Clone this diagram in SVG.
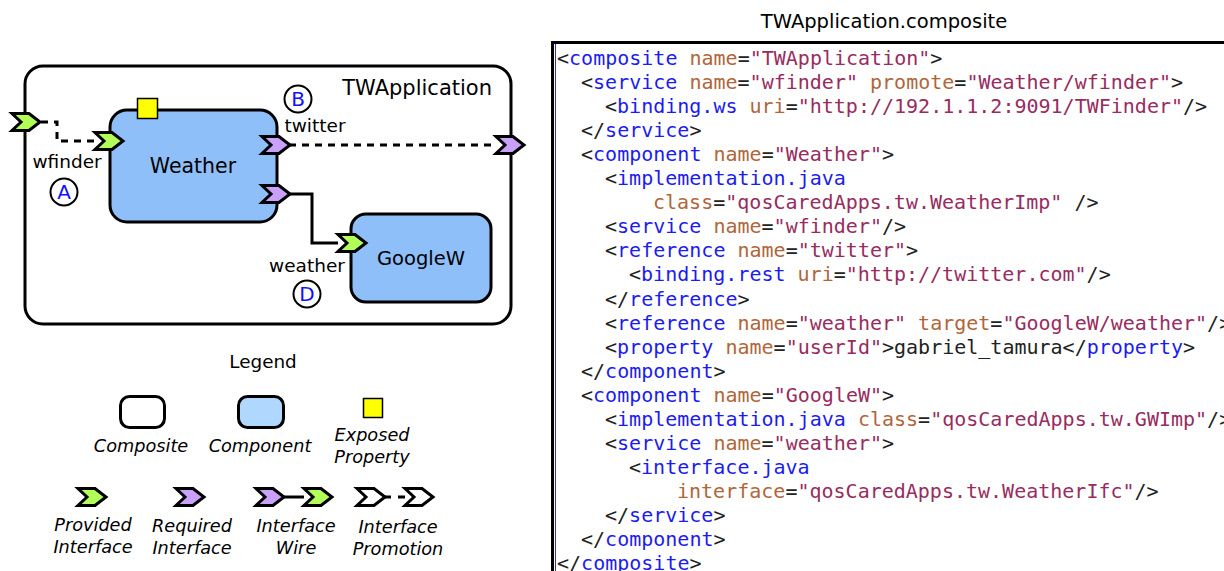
<svg xmlns="http://www.w3.org/2000/svg" width="1224" height="571" viewBox="0 0 1224 571">
<style>
.s{font-family:"DejaVu Sans","Liberation Sans",sans-serif;fill:#000}
.it{font-family:"DejaVu Sans","Liberation Sans",sans-serif;font-style:italic;font-size:17.7px;fill:#000;text-anchor:middle}
.code{font-family:"DejaVu Sans Mono","Liberation Mono",monospace;font-size:20px;fill:#222;white-space:pre}
.t{fill:#1c1cf0}
.a{fill:#b0663a}
.v{fill:#982c60}
.box{stroke:#000;stroke-width:3}
.comp{fill:#8fbff8;stroke:#000;stroke-width:3}
.wire{fill:none;stroke:#000;stroke-width:3}
.dash{fill:none;stroke:#000;stroke-width:3;stroke-dasharray:7,6}
.circ{fill:#fff;stroke:#000;stroke-width:2}
.lt{font-family:"DejaVu Sans","Liberation Sans",sans-serif;font-size:20px;fill:#1010ff;text-anchor:middle}
.prov{fill:#b2ff5a}
.req{fill:#c9a0fa}
.emp{fill:#fff}
</style>
<defs>
<path id="chev" d="M-14,-8.5 L3,-8.5 L14,0 L3,8.5 L-14,8.5 L-5,0 Z" stroke="#000" stroke-width="3" stroke-linejoin="miter"/>
</defs>

<g id="title"><text class="s" x="884" y="28" font-size="19.5" text-anchor="middle">TWApplication.composite</text></g>

<g id="composite">
<rect class="box" x="25" y="66" width="486" height="258" rx="18" fill="#fff"/>
<text class="s" x="492" y="95" font-size="21" text-anchor="end">TWApplication</text>
</g>

<g id="connectors">
<path class="dash" d="M41,122 H57 V141 H95"/>
<path class="dash" d="M289,145 H496"/>
<path class="wire" d="M289,194 H312 V243 H338"/>
</g>

<g id="weather">
<rect class="comp" x="110" y="110" width="167" height="112" rx="17"/>
<text class="s" x="193" y="173" font-size="20.5" text-anchor="middle">Weather</text>
<rect x="137.5" y="98.5" width="20" height="20" fill="#ffff00" stroke="#000" stroke-width="1.5"/>
</g>

<g id="googlew">
<rect class="comp" x="351" y="214" width="140" height="88" rx="15"/>
<text class="s" x="421" y="265" font-size="19.5" text-anchor="middle">GoogleW</text>
</g>

<g id="interfaces">
<use href="#chev" class="prov" x="26" y="122"/>
<use href="#chev" class="prov" x="109" y="141"/>
<use href="#chev" class="req" x="276" y="145"/>
<use href="#chev" class="req" x="276" y="194"/>
<use href="#chev" class="req" x="510" y="145"/>
<use href="#chev" class="prov" x="352" y="243"/>
</g>

<g id="labels">
<text class="s" x="67" y="168" font-size="18.5" text-anchor="middle">wfinder</text>
<text class="s" x="315" y="132" font-size="18.5" text-anchor="middle">twitter</text>
<text class="s" x="307" y="272" font-size="18.5" text-anchor="middle">weather</text>
<circle class="circ" cx="64" cy="192" r="13.5"/><text class="lt" x="64" y="199">A</text>
<circle class="circ" cx="298" cy="99" r="13.5"/><text class="lt" x="298" y="106">B</text>
<circle class="circ" cx="307" cy="294" r="13.5"/><text class="lt" x="307" y="301">D</text>
<circle class="circ" cx="1137" cy="273" r="14.5"/><text class="lt" x="1137" y="280">C</text>
</g>

<g id="legend">
<text class="s" x="263" y="368" font-size="18.4" text-anchor="middle">Legend</text>
<rect class="box" x="120.5" y="396.5" width="44" height="31" rx="9" fill="#fff"/>
<rect class="box" x="238.5" y="396.5" width="45" height="31" rx="9" fill="#b0d8ff"/>
<rect x="363.5" y="398.5" width="19" height="19" fill="#ffff00" stroke="#000" stroke-width="1.5"/>
<text class="it" x="141" y="452">Composite</text>
<text class="it" x="260" y="452">Component</text>
<text class="it" x="372" y="441">Exposed</text>
<text class="it" x="372" y="463">Property</text>
<use href="#chev" class="prov" x="92" y="497"/>
<use href="#chev" class="req" x="190" y="497"/>
<use href="#chev" class="req" x="270" y="497"/>
<path class="wire" d="M284,497 H304"/>
<use href="#chev" class="prov" x="318" y="497"/>
<use href="#chev" class="emp" x="371" y="497"/>
<path class="wire" d="M385,497 H391 M398,497 H405"/>
<use href="#chev" class="emp" x="419" y="497"/>
<text class="it" x="93" y="531">Provided</text>
<text class="it" x="93" y="553">Interface</text>
<text class="it" x="192" y="532">Required</text>
<text class="it" x="192" y="554">Interface</text>
<text class="it" x="296" y="532">Interface</text>
<text class="it" x="296" y="554">Wire</text>
<text class="it" x="398" y="533">Interface</text>
<text class="it" x="398" y="555">Promotion</text>
</g>

<g id="code">
<rect x="552.5" y="42.5" width="680" height="540" fill="#fff" stroke="#000" stroke-width="3"/>
<line x1="555.5" y1="44" x2="555.5" y2="571" stroke="#3030c0" stroke-width="1"/>
<text class="code" x="557" y="65">&lt;<tspan class="t">composite</tspan> <tspan class="a">name</tspan>=<tspan class="v">"TWApplication"</tspan>&gt;</text>
<text class="code" x="581" y="89">&lt;<tspan class="t">service</tspan> <tspan class="a">name</tspan>=<tspan class="v">"wfinder"</tspan> <tspan class="a">promote</tspan>=<tspan class="v">"Weather/wfinder"</tspan>&gt;</text>
<text class="code" x="605" y="113">&lt;<tspan class="t">binding.ws</tspan> <tspan class="a">uri</tspan>=<tspan class="v">"http://192.1.1.2:9091/TWFinder"</tspan>/&gt;</text>
<text class="code" x="581" y="137">&lt;/<tspan class="t">service</tspan>&gt;</text>
<text class="code" x="581" y="161">&lt;<tspan class="t">component</tspan> <tspan class="a">name</tspan>=<tspan class="v">"Weather"</tspan>&gt;</text>
<text class="code" x="605" y="185">&lt;<tspan class="t">implementation.java</tspan></text>
<text class="code" x="653" y="209"><tspan class="a">class</tspan>=<tspan class="v">"qosCaredApps.tw.WeatherImp"</tspan> /&gt;</text>
<text class="code" x="605" y="233">&lt;<tspan class="t">service</tspan> <tspan class="a">name</tspan>=<tspan class="v">"wfinder"</tspan>/&gt;</text>
<text class="code" x="605" y="257">&lt;<tspan class="t">reference</tspan> <tspan class="a">name</tspan>=<tspan class="v">"twitter"</tspan>&gt;</text>
<text class="code" x="629" y="281">&lt;<tspan class="t">binding.rest</tspan> <tspan class="a">uri</tspan>=<tspan class="v">"http://twitter.com"</tspan>/&gt;</text>
<text class="code" x="605" y="306">&lt;/<tspan class="t">reference</tspan>&gt;</text>
<text class="code" x="605" y="330">&lt;<tspan class="t">reference</tspan> <tspan class="a">name</tspan>=<tspan class="v">"weather"</tspan> <tspan class="a">target</tspan>=<tspan class="v">"GoogleW/weather"</tspan>/&gt;</text>
<text class="code" x="605" y="354">&lt;<tspan class="t">property</tspan> <tspan class="a">name</tspan>=<tspan class="v">"userId"</tspan>&gt;gabriel_tamura&lt;/<tspan class="t">property</tspan>&gt;</text>
<text class="code" x="581" y="378">&lt;/<tspan class="t">component</tspan>&gt;</text>
<text class="code" x="581" y="402">&lt;<tspan class="t">component</tspan> <tspan class="a">name</tspan>=<tspan class="v">"GoogleW"</tspan>&gt;</text>
<text class="code" x="605" y="426">&lt;<tspan class="t">implementation.java</tspan> <tspan class="a">class</tspan>=<tspan class="v">"qosCaredApps.tw.GWImp"</tspan>/&gt;</text>
<text class="code" x="605" y="450">&lt;<tspan class="t">service</tspan> <tspan class="a">name</tspan>=<tspan class="v">"weather"</tspan>&gt;</text>
<text class="code" x="629" y="474">&lt;<tspan class="t">interface.java</tspan></text>
<text class="code" x="677" y="498"><tspan class="a">interface</tspan>=<tspan class="v">"qosCaredApps.tw.WeatherIfc"</tspan>/&gt;</text>
<text class="code" x="605" y="522">&lt;/<tspan class="t">service</tspan>&gt;</text>
<text class="code" x="581" y="546">&lt;/<tspan class="t">component</tspan>&gt;</text>
<text class="code" x="557" y="570">&lt;/<tspan class="t">composite</tspan>&gt;</text>
</g>
</svg>
